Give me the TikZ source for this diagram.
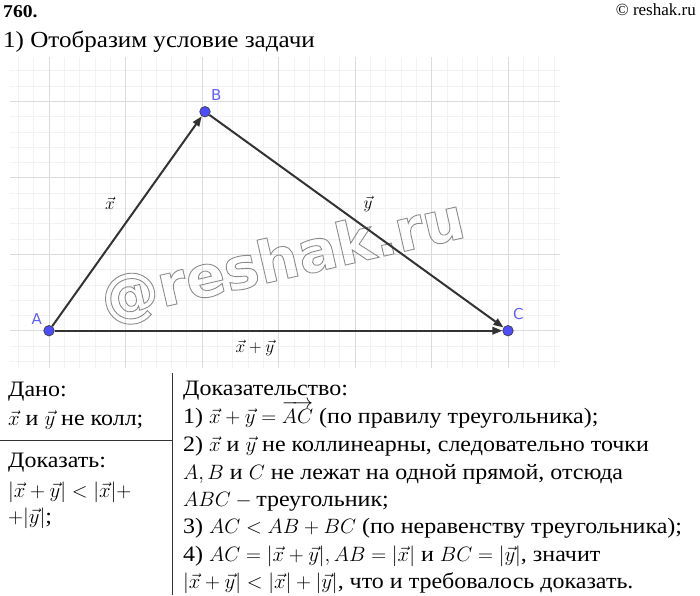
\documentclass[tikz,border=0pt]{standalone}
\usepackage{amsmath}
\usepackage{amssymb}
\usepackage{fontspec}
\setmainfont{Liberation Serif}[FakeStretch=1.09]
\newfontfamily\copyfont{Liberation Serif}
\newfontfamily\geofont{DejaVu Sans}
\newfontfamily\markfont{DejaVu Sans}[BoldFont={DejaVu Sans Bold}]
\usetikzlibrary{arrows.meta}
\usetikzlibrary{positioning}
\definecolor{geoblue}{HTML}{4D4DFF}
\definecolor{geolbl}{HTML}{6060FF}
\definecolor{edgegray}{HTML}{333333}
\newcommand{\outlined}[1]{\special{pdf:code 1 Tr 0.9 w}#1\special{pdf:code 0 Tr}}
\tikzset{pt/.style={circle,fill=geoblue,draw=black!75,line width=0.7pt,inner sep=0pt,
minimum size=10.5pt},
ptlbl/.style={inner sep=0pt, text=geolbl, font=\geofont\fontsize{15}{15}\selectfont},
veclbl/.style={inner sep=0pt, font=\fontsize{16}{16}\selectfont},
vec/.style={color=edgegray, line width=2pt, -{Triangle[length=10pt,width=7.5pt]}},
txt/.style={anchor=base west, inner sep=0pt, font=\fontsize{22}{26}\selectfont},
major/.style={color=black!14, line width=0.8pt},
minor/.style={color=black!5, line width=0.6pt},
rule/.style={color=black!80, line width=0.8pt}}

\begin{document}
\begin{tikzpicture}[x=1pt,y=-1pt]
  \useasboundingbox (0,0) rectangle (700,595);

  % grid
  \begin{scope}
    \clip (10,57) rectangle (560,368);
    \foreach \i in {-3,...,34} \draw [minor] (49+15.3*\i,57) -- (49+15.3*\i,368);
    \foreach \j in {-3,...,18} \draw [minor] (10,330.7-15.3*\j) -- (560,330.7-15.3*\j);
    \foreach \i in {0,...,6} \draw [major] (49+76.5*\i,57) -- (49+76.5*\i,368);
    \foreach \j in {0,...,3} \draw [major] (10,330.7-76.5*\j) -- (560,330.7-76.5*\j);
  \end{scope}

  % watermark
  \node (mark) [inner sep=0pt, rotate=13, text=black!45] at (283,262)
    {\markfont\bfseries\fontsize{58}{58}\selectfont\outlined{@reshak.ru}};

  % points and vectors
  \node (A) [pt] at (49,330.7) {};
  \node (B) [pt] at (205,111.7) {};
  \node (C) [pt] at (508,330.7) {};
  \draw [vec] (A) -- (B);
  \draw [vec] (B) -- (C);
  \draw [vec] (A) -- (C);
  \node (captA) [ptlbl, above left=2pt and 3pt of A] {A};
  \node (captB) [ptlbl, above right=7pt and 2pt of B] {B};
  \node (captC) [ptlbl, above right=7pt and 1pt of C] {C};
  \node (captx) [veclbl] at (110,203) {$\vec{x}$};
  \node (capty) [veclbl] at (368,204) {$\vec{y}$};
  \node (captxy) [veclbl] at (255,348) {$\vec{x}+\vec{y}$};

  % header
  \node (num) [txt, font=\bfseries\fontsize{18}{18}\selectfont] at (3,17) {760.};
  \node (copy) [txt, anchor=base east, font=\copyfont\fontsize{17}{17}\selectfont] at (696,15) {© reshak.ru};
  \node (head) [txt, font=\fontsize{23}{26}\selectfont] at (3,47) {1) Отобразим условие задачи};

  % table rules
  \coordinate (vtop) at (172,373);
  \coordinate (vbot) at (172,595);
  \coordinate (hl) at (0,440.7);
  \coordinate (hr) at (172,440.7);
  \draw [rule] (vtop) -- (vbot);
  \draw [rule] (hl) -- (hr);

  % given / to prove
  \node (given) [txt] at (8,396) {Дано:};
  \node (given1) [txt] at (8,425) {$\vec{x}$ и $\vec{y}$ не колл;};
  \node (prove) [txt] at (8,467) {Доказать:};
  \node (prove1) [txt] at (8,497) {$|\vec{x}+\vec{y}|<|\vec{x}|+$};
  \node (prove2) [txt] at (8,523) {$+|\vec{y}|$;};

  % proof
  \node (proof) [txt] at (183,395) {Доказательство:};
  \node (st1) [txt] at (183,423) {1) $\vec{x}+\vec{y}=\overrightarrow{AC}$ (по правилу треугольника);};
  \node (st2) [txt] at (183,451) {2) $\vec{x}$ и $\vec{y}$ не коллинеарны, следовательно точки};
  \node (st2b) [txt] at (183,479) {$A,B$ и $C$ не лежат на одной прямой, отсюда};
  \node (st2c) [txt] at (183,506) {$ABC-{}$треугольник;};
  \node (st3) [txt] at (183,533) {3) $AC<AB+BC$ (по неравенству треугольника);};
  \node (st4) [txt] at (183,561) {4) $AC=|\vec{x}+\vec{y}|,AB=|\vec{x}|$ и $BC=|\vec{y}|$, значит};
  \node (st4b) [txt] at (183,588) {$|\vec{x}+\vec{y}|<|\vec{x}|+|\vec{y}|$, что и требовалось доказать.};
\end{tikzpicture}
\end{document}
